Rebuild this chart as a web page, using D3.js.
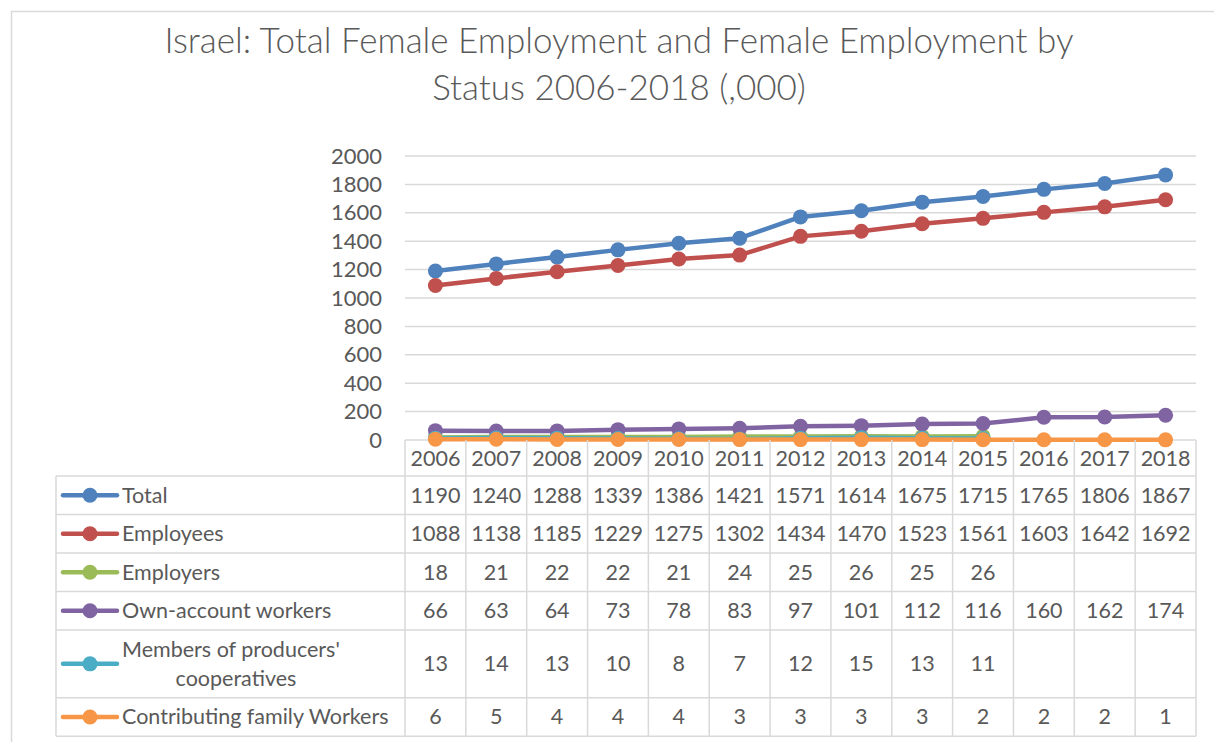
<!DOCTYPE html>
<html>
<meta charset="utf-8">
<script src="https://d3js.org/d3.v7.min.js"></script>
<style>
    body { margin: 0; background: #fff; }
    text { font-family: Lato, "Open Sans", sans-serif; fill: #595959; }
</style>
<body>
<div id="chart"></div>
<script>

// data
var years = ["2006","2007","2008","2009","2010","2011","2012","2013","2014","2015","2016","2017","2018"];
var total        = [1190,1240,1288,1339,1386,1421,1571,1614,1675,1715,1765,1806,1867];
var employees    = [1088,1138,1185,1229,1275,1302,1434,1470,1523,1561,1603,1642,1692];
var employers    = [18,21,22,22,21,24,25,26,25,26,null,null,null];
var ownAccount   = [66,63,64,73,78,83,97,101,112,116,160,162,174];
var members      = [13,14,13,10,8,7,12,15,13,11,null,null,null];
var contributing = [6,5,4,4,4,3,3,3,3,2,2,2,1];
var yTicks = [0,200,400,600,800,1000,1200,1400,1600,1800,2000];

var seriesNames = ["Total","Employees","Employers","Own-account workers","Members of producers' cooperatives","Contributing family Workers"];
var seriesColors = ["#4F81BD","#C0504D","#9BBB59","#8064A2","#4BACC6","#F79646"];
var seriesValues = [total, employees, employers, ownAccount, members, contributing];

var W = 1214, H = 742;
var plot = {left: 405, right: 1196, top: 156, bottom: 440};
var fs = "21.5px";

var svg = d3.select("#chart").append("svg")
    .attr("width", W)
    .attr("height", H);

// chart border
svg.append("rect")
    .attr("x", 11.5).attr("y", 11.5)
    .attr("width", W + 20).attr("height", H + 20)
    .attr("fill", "none")
    .attr("stroke", "#d9d9d9")
    .attr("stroke-width", 1.5);

// title
svg.append("text")
    .attr("x", 619).attr("y", 53)
    .attr("text-anchor", "middle")
    .style("font-size", "35px")
    .style("font-weight", 300)
    .text("Israel: Total Female Employment and Female Employment by");
svg.append("text")
    .attr("x", 619).attr("y", 100)
    .attr("text-anchor", "middle")
    .style("font-size", "35px")
    .style("font-weight", 300)
    .text("Status 2006-2018 (,000)");

// scales
var x = d3.scaleBand()
    .domain(years)
    .range([plot.left, plot.right]);

var y = d3.scaleLinear()
    .domain([0, 2000])
    .range([plot.bottom, plot.top]);

// gridlines
svg.append("g")
    .selectAll("line")
    .data(yTicks)
    .enter()
    .append("line")
        .attr("x1", plot.left).attr("x2", plot.right)
        .attr("y1", function(d){ return y(d); })
        .attr("y2", function(d){ return y(d); })
        .attr("stroke", "#d9d9d9")
        .attr("stroke-width", 1.5);

// y axis labels
var yAxis = svg.append("g")
    .attr("transform", "translate(" + (plot.left - 23) + ",0)")
    .call(d3.axisLeft(y).tickValues(yTicks).tickFormat(d3.format("d")).tickSize(0).tickPadding(0));
yAxis.select(".domain").remove();
yAxis.selectAll("text")
    .style("font-size", "22px")
    .style("font-family", "Lato, 'Open Sans', sans-serif")
    .attr("fill", "#595959");

//----------//
//  Lines   //
//----------//
var line = d3.line()
    .defined(function(d){ return d.v != null; })
    .x(function(d){ return x(d.year) + x.bandwidth() / 2; })
    .y(function(d){ return y(d.v); });

seriesValues.forEach(function(vals, i){
    var pts = years.map(function(yr, j){ return {year: yr, v: vals[j]}; });
    svg.append("path")
        .datum(pts)
        .attr("d", line)
        .attr("fill", "none")
        .attr("stroke", seriesColors[i])
        .attr("stroke-width", 4.5)
        .attr("stroke-linejoin", "round");
    svg.append("g")
        .selectAll("circle")
        .data(pts.filter(function(d){ return d.v != null; }))
        .enter()
        .append("circle")
            .attr("cx", function(d){ return x(d.year) + x.bandwidth() / 2; })
            .attr("cy", function(d){ return y(d.v); })
            .attr("r", 7.5)
            .attr("fill", seriesColors[i]);
});

//------------//
//   Table    //
//------------//
var rowH = [38.5, 38.5, 38.5, 38.5, 67.7, 38.5];
var headerTop = 440, headerBottom = 476;
var tableLeft = 56;
var rowTops = [headerBottom];
rowH.forEach(function(h){ rowTops.push(rowTops[rowTops.length - 1] + h); });
var tableBottom = rowTops[rowTops.length - 1];

var grid = svg.append("g")
    .attr("stroke", "#d9d9d9")
    .attr("stroke-width", 1.5);

// horizontal lines
rowTops.forEach(function(t){
    grid.append("line")
        .attr("x1", tableLeft).attr("x2", plot.right)
        .attr("y1", t).attr("y2", t);
});
// vertical lines across years
years.concat(["end"]).forEach(function(yr, j){
    var xx = j < years.length ? x(yr) : plot.right;
    grid.append("line")
        .attr("x1", xx).attr("x2", xx)
        .attr("y1", headerTop).attr("y2", tableBottom);
});
grid.append("line")
    .attr("x1", tableLeft).attr("x2", tableLeft)
    .attr("y1", headerBottom).attr("y2", tableBottom);

// header years
svg.append("g")
    .selectAll("text")
    .data(years)
    .enter()
    .append("text")
        .attr("x", function(d){ return x(d) + x.bandwidth() / 2; })
        .attr("y", (headerTop + headerBottom) / 2)
        .attr("dy", "0.35em")
        .attr("text-anchor", "middle")
        .style("font-size", fs)
        .text(function(d){ return d; });

// rows
seriesValues.forEach(function(vals, i){
    var cy = rowTops[i] + rowH[i] / 2;
    // legend key
    svg.append("line")
        .attr("x1", 63).attr("x2", 117)
        .attr("y1", cy).attr("y2", cy)
        .attr("stroke", seriesColors[i])
        .attr("stroke-width", 4.5)
        .attr("stroke-linecap", "round");
    svg.append("circle")
        .attr("cx", 90).attr("cy", cy)
        .attr("r", 7.5)
        .attr("fill", seriesColors[i]);
    // label
    if (i === 4) {
        svg.append("text")
            .attr("x", 122).attr("y", cy - 14.5)
            .attr("dy", "0.35em")
            .style("font-size", fs)
            .text("Members of producers'");
        svg.append("text")
            .attr("x", 236).attr("y", cy + 14.5)
            .attr("dy", "0.35em")
            .attr("text-anchor", "middle")
            .style("font-size", fs)
            .text("cooperatives");
    } else {
        svg.append("text")
            .attr("x", 122).attr("y", cy)
            .attr("dy", "0.35em")
            .style("font-size", fs)
            .text(seriesNames[i]);
    }
    // values
    svg.append("g")
        .selectAll("text")
        .data(vals)
        .enter()
        .append("text")
            .attr("x", function(d, j){ return x(years[j]) + x.bandwidth() / 2; })
            .attr("y", cy)
            .attr("dy", "0.35em")
            .attr("text-anchor", "middle")
            .style("font-size", fs)
            .text(function(d){ return d == null ? "" : d; });
});

</script>
</body>
</html>
